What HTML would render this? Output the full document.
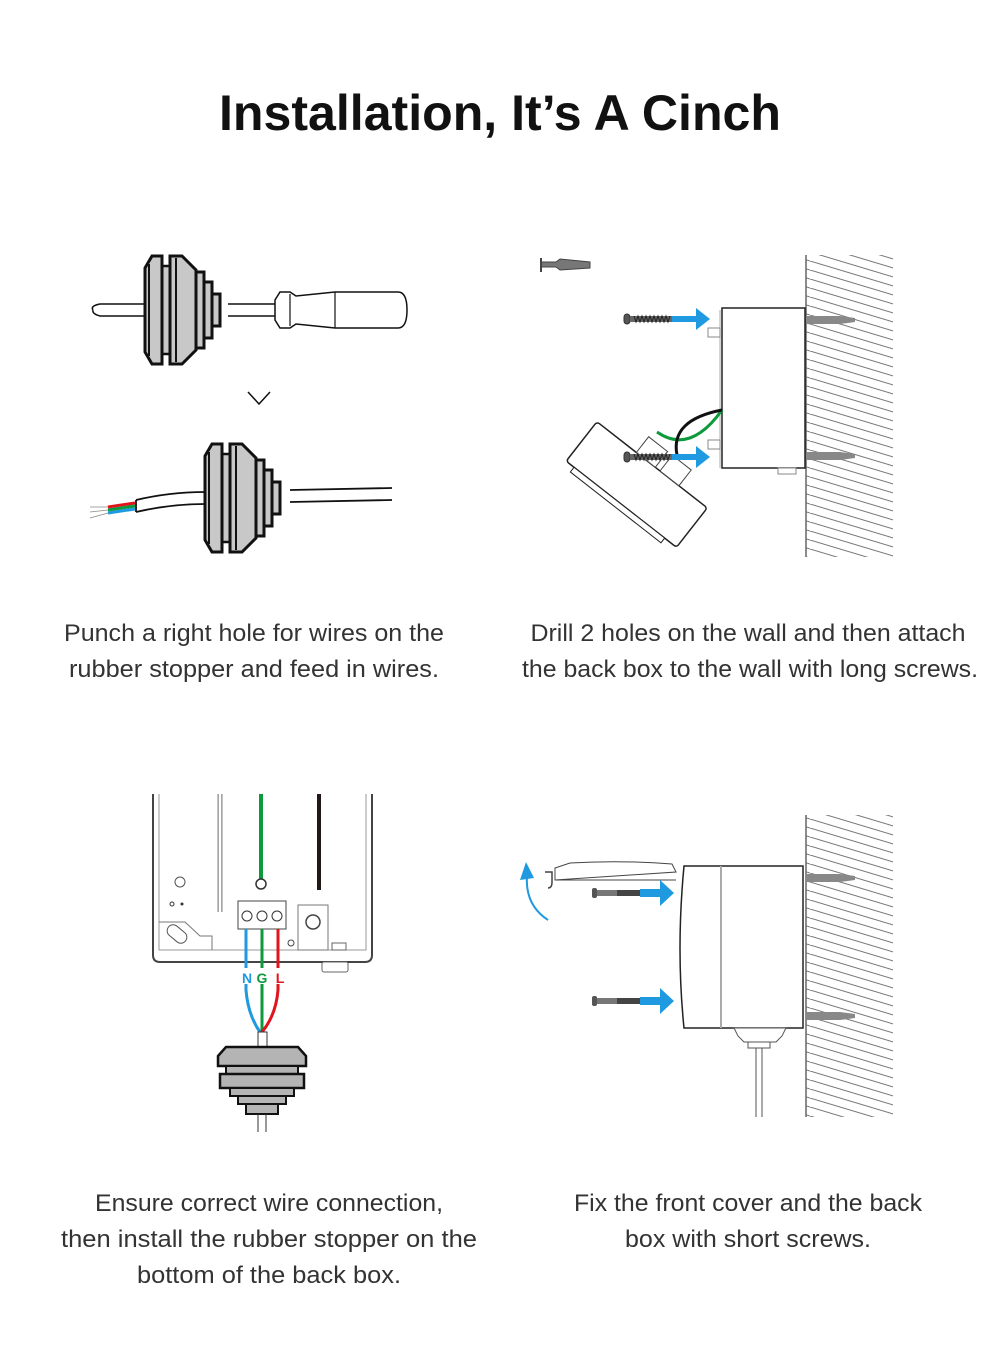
<!DOCTYPE html>
<html><head><meta charset="utf-8"><style>html,body{margin:0;padding:0;background:#fff}svg{display:block}</style></head>
<body>
<svg width="1000" height="1351" viewBox="0 0 1000 1351" xmlns="http://www.w3.org/2000/svg">
<defs>
<pattern id="hatch" width="90" height="9" patternUnits="userSpaceOnUse">
<line x1="0" y1="0" x2="90" y2="27" stroke="#777" stroke-width="1"/>
<line x1="0" y1="-9" x2="90" y2="18" stroke="#777" stroke-width="1"/>
<line x1="0" y1="-18" x2="90" y2="9" stroke="#777" stroke-width="1"/>
<line x1="0" y1="-27" x2="90" y2="0" stroke="#777" stroke-width="1"/>
</pattern>
<g id="stopper">
<rect x="-24" y="-44" width="8" height="88" fill="#c8c8c8" stroke="#111" stroke-width="2.5"/>
<path d="M-41,-42 L-34,-54 L-24,-54 L-24,54 L-34,54 L-41,42 Z" fill="#c8c8c8" stroke="#111" stroke-width="3"/>
<path d="M-16,-54 L-4,-54 L10,-40 L10,40 L-4,54 L-16,54 Z" fill="#c8c8c8" stroke="#111" stroke-width="3"/>
<rect x="10" y="-38" width="8" height="76" fill="#c8c8c8" stroke="#111" stroke-width="3"/>
<rect x="18" y="-28" width="8" height="56" fill="#c8c8c8" stroke="#111" stroke-width="3"/>
<rect x="26" y="-16" width="8" height="32" fill="#c8c8c8" stroke="#111" stroke-width="3"/>
<line x1="-37" y1="-46" x2="-37" y2="46" stroke="#111" stroke-width="2"/>
<line x1="-10" y1="-52" x2="-10" y2="52" stroke="#111" stroke-width="2"/>
</g>
<g id="screw">
<rect x="0" y="-5" width="6" height="10" rx="3" fill="#555" stroke="#333"/>
<rect x="6" y="-3" width="42" height="6" fill="#666"/>
<path d="M10,-3 l2,6 l2,-6 l2,6 l2,-6 l2,6 l2,-6 l2,6 l2,-6 l2,6 l2,-6 l2,6 l2,-6 l2,6 l2,-6 l2,6 l2,-6 l2,6 l2,-6" fill="none" stroke="#222" stroke-width="1"/>
</g>
</defs>

<text x="500" y="130" text-anchor="middle" font-family="Liberation Sans, sans-serif" font-weight="bold" font-size="50" fill="#111" textLength="562" lengthAdjust="spacingAndGlyphs">Installation, It’s A Cinch</text>

<!-- Panel 1 -->
<g>
<path d="M93,310 Q90,306 100,304 L145,304 M93,310 Q92,314 100,316 L145,316" fill="none" stroke="#111" stroke-width="1.5"/>
<line x1="228" y1="304" x2="275" y2="304" stroke="#111" stroke-width="1.5"/>
<line x1="228" y1="316" x2="275" y2="316" stroke="#111" stroke-width="1.5"/>
<path d="M275,300 L280,292 L290,292 L296,296 L335,292 L398,292 Q407,292 407,310 Q407,328 398,328 L335,328 L296,324 L290,328 L280,328 L275,320 Z" fill="#fff" stroke="#111" stroke-width="1.5"/>
<line x1="335" y1="292" x2="335" y2="328" stroke="#111" stroke-width="1.2"/>
<line x1="290" y1="294" x2="290" y2="326" stroke="#111" stroke-width="1.2"/>
<use href="#stopper" transform="translate(186,310)"/>
<polyline points="248,392 259,404 270,392" fill="none" stroke="#111" stroke-width="1.5"/>
<path d="M136,500 Q170,492 205,492 M136,512 Q170,504 205,504" fill="none" stroke="#111" stroke-width="1.8"/>
<line x1="136" y1="500" x2="136" y2="512" stroke="#111" stroke-width="1.8"/>
<path d="M290,490 L392,488 M290,502 L392,500" fill="none" stroke="#111" stroke-width="1.8"/>
<line x1="108" y1="507" x2="135" y2="503" stroke="#e1141d" stroke-width="3"/>
<line x1="108" y1="510" x2="135" y2="506" stroke="#0d9a3c" stroke-width="3"/>
<line x1="108" y1="513" x2="135" y2="509" stroke="#1f9ae0" stroke-width="3"/>
<path d="M90,507 L108,507 M90,512 L108,510 M90,518 L108,513" stroke="#888" stroke-width="0.8"/>
<use href="#stopper" transform="translate(246,498)"/>
</g>

<!-- Panel 2 -->
<g>
<rect x="806" y="255" width="87" height="302" fill="url(#hatch)"/>
<line x1="806" y1="255" x2="806" y2="557" stroke="#666" stroke-width="1.5"/>
<path d="M541,262 L556,262 L560,259 L590,262 L590,268 L560,270 L556,267 L541,267 Z" fill="#777" stroke="#444"/>
<line x1="541" y1="258" x2="541" y2="272" stroke="#444" stroke-width="2"/>
<rect x="722" y="308" width="83" height="160" fill="#fff" stroke="#222" stroke-width="1.5"/>
<line x1="720" y1="310" x2="720" y2="468" stroke="#aaa"/>
<rect x="708" y="328" width="12" height="9" fill="#fff" stroke="#888"/>
<rect x="708" y="440" width="12" height="9" fill="#fff" stroke="#888"/>
<rect x="778" y="468" width="18" height="6" fill="#fff" stroke="#888"/>
<path d="M806,316 L840,316 L855,318 L855,322 L840,324 L806,324 Z" fill="#888"/>
<path d="M806,452 L840,452 L855,454 L855,458 L840,460 L806,460 Z" fill="#888"/>
<g transform="translate(610,470) rotate(38)">
<rect x="-40" y="-30" width="140" height="50" rx="3" fill="#fff" stroke="#222" stroke-width="1.5"/>
<rect x="-30" y="20" width="115" height="6" fill="#fff" stroke="#222" stroke-width="1"/>
<rect x="10" y="-50" width="24" height="20" fill="#fff" stroke="#444"/>
<rect x="40" y="-50" width="24" height="20" fill="#fff" stroke="#444"/>
</g>
<path d="M657,432 Q690,455 722,410" fill="none" stroke="#0d9a3c" stroke-width="3"/>
<path d="M677,455 Q670,420 722,410" fill="none" stroke="#111" stroke-width="3"/>
<use href="#screw" transform="translate(624,319)"/>
<path d="M672,316 L696,316 L696,308 L710,319 L696,330 L696,322 L672,322 Z" fill="#1f9ae0"/>
<use href="#screw" transform="translate(624,457)"/>
<path d="M672,454 L696,454 L696,446 L710,457 L696,468 L696,460 L672,460 Z" fill="#1f9ae0"/>
</g>

<!-- Panel 3 -->
<g>
<path d="M153,794 L153,955 Q153,962 160,962 L365,962 Q372,962 372,955 L372,794" fill="#fff" stroke="#444" stroke-width="2"/>
<path d="M159,794 L159,950 L366,950 L366,794" fill="none" stroke="#999" stroke-width="1"/>
<line x1="220" y1="794" x2="220" y2="912" stroke="#888" stroke-width="5"/>
<line x1="220" y1="794" x2="220" y2="912" stroke="#fff" stroke-width="2.5"/>
<line x1="261" y1="794" x2="261" y2="884" stroke="#0d9a3c" stroke-width="4"/>
<circle cx="261" cy="884" r="5" fill="#fff" stroke="#333" stroke-width="1.5"/>
<line x1="319" y1="794" x2="319" y2="890" stroke="#231815" stroke-width="4"/>
<circle cx="180" cy="882" r="5" fill="#fff" stroke="#555"/>
<circle cx="172" cy="904" r="2" fill="#fff" stroke="#333"/>
<circle cx="182" cy="904" r="1.5" fill="#333"/>
<path d="M159,922 L185,922 L200,936 L212,936 L212,950" fill="none" stroke="#777"/>
<rect x="166" y="928" width="22" height="12" rx="6" transform="rotate(40 177 934)" fill="#fff" stroke="#555"/>
<rect x="238" y="901" width="48" height="28" fill="#fff" stroke="#444"/>
<circle cx="247" cy="916" r="5" fill="#fff" stroke="#333"/><circle cx="262" cy="916" r="5" fill="#fff" stroke="#333"/><circle cx="277" cy="916" r="5" fill="#fff" stroke="#333"/>
<rect x="298" y="905" width="30" height="45" fill="#fff" stroke="#777"/>
<circle cx="313" cy="922" r="7" fill="#fff" stroke="#444" stroke-width="1.5"/>
<circle cx="291" cy="943" r="3" fill="#fff" stroke="#444"/>
<rect x="322" y="962" width="26" height="10" rx="2" fill="#fff" stroke="#666"/>
<rect x="332" y="943" width="14" height="7" fill="#fff" stroke="#666"/>
<path d="M246,929 L246,990 Q248,1015 260,1032" fill="none" stroke="#1f9ae0" stroke-width="3"/>
<path d="M262,929 L262,1032" fill="none" stroke="#0d9a3c" stroke-width="3"/>
<path d="M278,929 L278,990 Q276,1015 262,1032" fill="none" stroke="#e1141d" stroke-width="3"/>
<rect x="240" y="968" width="14" height="16" fill="#fff"/><rect x="255" y="968" width="14" height="16" fill="#fff"/><rect x="271" y="968" width="14" height="16" fill="#fff"/>
<text x="247" y="983" text-anchor="middle" font-family="Liberation Sans, sans-serif" font-weight="bold" font-size="14" fill="#1f9ae0">N</text>
<text x="262" y="983" text-anchor="middle" font-family="Liberation Sans, sans-serif" font-weight="bold" font-size="14" fill="#0d9a3c">G</text>
<text x="280" y="983" text-anchor="middle" font-family="Liberation Sans, sans-serif" font-weight="bold" font-size="14" fill="#e1141d">L</text>
<rect x="258" y="1032" width="9" height="15" fill="#fff" stroke="#333"/>
<path d="M226,1047 L298,1047 L306,1056 L306,1066 L218,1066 L218,1056 Z" fill="#b4b4b4" stroke="#111" stroke-width="2.5"/>
<rect x="226" y="1066" width="72" height="8" fill="#b4b4b4" stroke="#111" stroke-width="2"/>
<path d="M220,1074 L304,1074 L304,1088 L220,1088 Z" fill="#b4b4b4" stroke="#111" stroke-width="2.5"/>
<rect x="230" y="1088" width="64" height="8" fill="#b4b4b4" stroke="#111" stroke-width="2"/>
<rect x="238" y="1096" width="48" height="8" fill="#b4b4b4" stroke="#111" stroke-width="2"/>
<rect x="246" y="1104" width="32" height="10" fill="#b4b4b4" stroke="#111" stroke-width="2"/>
<line x1="258" y1="1114" x2="258" y2="1132" stroke="#333"/><line x1="266" y1="1114" x2="266" y2="1132" stroke="#333"/>
</g>

<!-- Panel 4 -->
<g>
<rect x="806" y="815" width="87" height="302" fill="url(#hatch)"/>
<line x1="806" y1="815" x2="806" y2="1117" stroke="#666" stroke-width="1.5"/>
<path d="M684,866 L803,866 L803,1028 L684,1028 Q676,950 684,866 Z" fill="#fff" stroke="#222" stroke-width="1.5"/>
<line x1="721" y1="866" x2="721" y2="1028" stroke="#aaa" stroke-width="2"/>
<path d="M806,874 L840,874 L855,876 L855,880 L840,882 L806,882 Z" fill="#888"/>
<path d="M806,1012 L840,1012 L855,1014 L855,1018 L840,1020 L806,1020 Z" fill="#888"/>
<path d="M734,1028 L786,1028 L782,1036 L776,1042 L744,1042 L738,1036 Z" fill="#fff" stroke="#555"/>
<rect x="748" y="1042" width="22" height="6" fill="#fff" stroke="#555"/>
<line x1="756" y1="1048" x2="756" y2="1117" stroke="#555"/><line x1="762" y1="1048" x2="762" y2="1117" stroke="#555"/>
<path d="M570,863 Q620,860 672,864 L676,872 L555,880 L555,868 Z" fill="#fff" stroke="#444"/>
<line x1="555" y1="880" x2="676" y2="880" stroke="#444"/>
<path d="M545,872 L552,872 L552,882 Q552,888 548,888" fill="none" stroke="#444" stroke-width="1.5"/>
<g transform="translate(592,892)"><rect x="0" y="-4" width="5" height="10" rx="2" fill="#555"/><rect x="5" y="-2" width="30" height="6" fill="#777"/><rect x="25" y="-2" width="24" height="6" fill="#444"/></g>
<path d="M640,889 L660,889 L660,880 L674,893 L660,906 L660,897 L640,897 Z" fill="#1f9ae0"/>
<g transform="translate(592,1000)"><rect x="0" y="-4" width="5" height="10" rx="2" fill="#555"/><rect x="5" y="-2" width="30" height="6" fill="#777"/><rect x="25" y="-2" width="24" height="6" fill="#444"/></g>
<path d="M640,997 L660,997 L660,988 L674,1001 L660,1014 L660,1005 L640,1005 Z" fill="#1f9ae0"/>
<path d="M548,920 Q525,905 527,876" fill="none" stroke="#1f9ae0" stroke-width="2"/>
<path d="M520,880 L526,862 L534,878 Z" fill="#1f9ae0"/>
</g>

<g font-family="Liberation Sans, sans-serif" font-size="24" fill="#333" text-anchor="middle">
<text x="254" y="641" textLength="380" lengthAdjust="spacingAndGlyphs">Punch a right hole for wires on the</text>
<text x="254" y="677" textLength="370" lengthAdjust="spacingAndGlyphs">rubber stopper and feed in wires.</text>
<text x="748" y="641" textLength="435" lengthAdjust="spacingAndGlyphs">Drill 2 holes on the wall and then attach</text>
<text x="750" y="677" textLength="456" lengthAdjust="spacingAndGlyphs">the back box to the wall with long screws.</text>
<text x="269" y="1211" textLength="348" lengthAdjust="spacingAndGlyphs">Ensure correct wire connection,</text>
<text x="269" y="1247" textLength="416" lengthAdjust="spacingAndGlyphs">then install the rubber stopper on the</text>
<text x="269" y="1283" textLength="264" lengthAdjust="spacingAndGlyphs">bottom of the back box.</text>
<text x="748" y="1211" textLength="348" lengthAdjust="spacingAndGlyphs">Fix the front cover and the back</text>
<text x="748" y="1247" textLength="246" lengthAdjust="spacingAndGlyphs">box with short screws.</text>
</g>
</svg>
</body></html>
